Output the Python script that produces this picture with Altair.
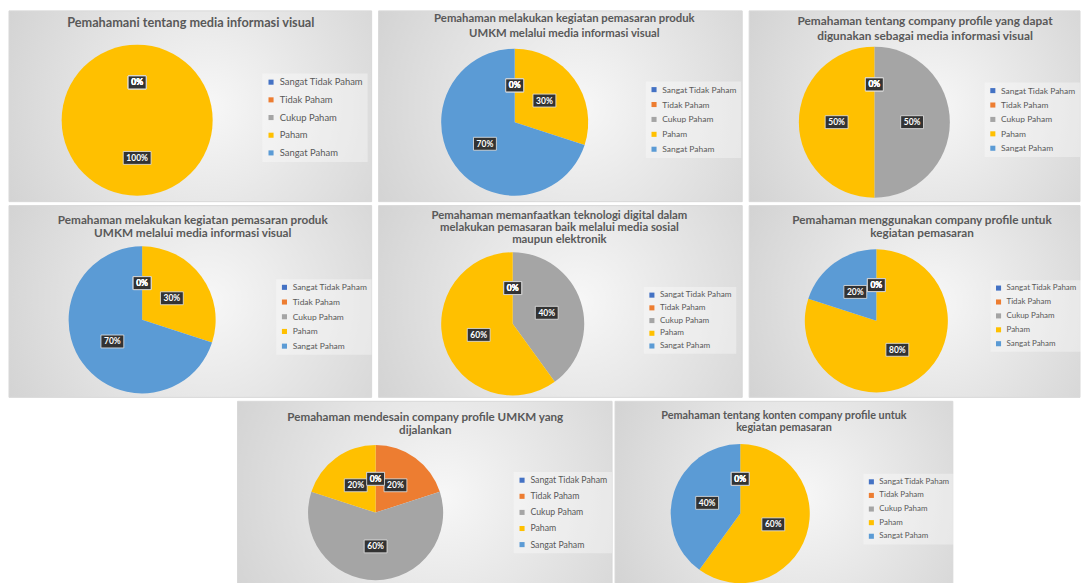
import altair as alt
import pandas as pd

CATEGORIES = ["Sangat Tidak Paham", "Tidak Paham", "Cukup Paham", "Paham", "Sangat Paham"]
COLORS = ["#4472C4", "#ED7D31", "#A5A5A5", "#FFC000", "#5B9BD5"]

TITLES = [
    "Pemahamani tentang media informasi visual",
    "Pemahaman melakukan kegiatan pemasaran produk\nUMKM melalui media informasi visual",
    "Pemahaman tentang company profile yang dapat\ndigunakan sebagai media informasi visual",
    "Pemahaman melakukan kegiatan pemasaran produk\nUMKM melalui media informasi visual",
    "Pemahaman memanfaatkan teknologi digital dalam\nmelakukan pemasaran baik melalui media sosial\nmaupun elektronik",
    "Pemahaman menggunakan company profile untuk\nkegiatan pemasaran",
    "Pemahaman mendesain company profile UMKM yang\ndijalankan",
    "Pemahaman tentang konten company profile untuk\nkegiatan pemasaran",
]

# percentages per category (same order as CATEGORIES)
V1 = [0, 0, 0, 100, 0]
V2 = [0, 0, 0, 30, 70]
V3 = [0, 0, 50, 50, 0]
V4 = [0, 0, 0, 30, 70]
V5 = [0, 0, 40, 60, 0]
V6 = [0, 0, 0, 80, 20]
V7 = [0, 20, 60, 20, 0]
V8 = [0, 0, 0, 60, 40]
PANEL_VALUES = [V1, V2, V3, V4, V5, V6, V7, V8]

# ---- layout / style (not data) ----
FONT = "Lato"
PANEL_W = [365, 366, 333, 365, 366, 333, 377, 340]
PANEL_H = [192, 192, 192, 193, 193, 193, 190, 190]
# pie centre (x, y) inside panel and radius
PIE = [(129, 110, 76), (137, 112, 74), (126, 112, 76), (134, 115, 74),
       (135, 119, 72), (128, 116, 72), (139, 112, 68), (126, 113, 70)]
# title centre x, first line centre y, font size, line height
TITLE_POS = [(183, 12, 12.8, 15), (187, 8, 11.4, 15.5), (177, 10, 11.9, 15), (185, 15, 11.8, 12.8),
             (182, 10, 11.4, 12.5), (174, 15, 11.8, 13), (189, 16, 11.7, 13), (170, 15, 10.9, 12)]
# legend x, y, label size, row padding
LEGEND_POS = [(255, 63, 9.5, 6.8), (269, 71, 8.5, 6), (237, 72, 8.5, 5.5), (269, 74, 8.5, 5.8),
              (267, 82, 8.2, 3.8), (243, 75, 8, 6), (278, 71, 8.8, 6.2), (250, 73, 8, 5.7)]

BOX_PATHS = [
    "M-0.9,-0.65L0.9,-0.65L0.9,0.65L-0.9,0.65Z",
    "M-1.15,-0.65L1.15,-0.65L1.15,0.65L-1.15,0.65Z",
    "M-1.4,-0.65L1.4,-0.65L1.4,0.65L-1.4,0.65Z",
]

BG = {
    "gradient": "radial",
    "stops": [{"offset": 0, "color": "#f7f7f7"}, {"offset": 1, "color": "#cbcbcb"}],
    "x1": 0.55, "y1": 0.5, "r1": 0, "x2": 0.55, "y2": 0.5, "r2": 0.75,
}


def panel(i):
    df = pd.DataFrame({"cat": CATEGORIES, "idx": list(range(5)), "val": PANEL_VALUES[i]})
    cx, cy, r = PIE[i]
    W, H = PANEL_W[i], PANEL_H[i]
    sx = alt.Scale(domain=[-1, 1], range=[cx - r, cx + r])
    sy = alt.Scale(domain=[-1, 1], range=[cy + r, cy - r])
    tx, ty, tfs, tlh = TITLE_POS[i]
    lx, ly, lfs, lrp = LEGEND_POS[i]

    bg = alt.Chart(pd.DataFrame({"a": [0]})).mark_rect(fill=BG, stroke="#d8d8d8", strokeWidth=1).encode(
        x=alt.value(0), x2=alt.value(W), y=alt.value(0), y2=alt.value(H)
    )

    base = alt.Chart(df)

    pie = base.mark_arc(radius=r).encode(
        theta=alt.Theta("val:Q", stack=True),
        order=alt.Order("idx:Q"),
        x=alt.XDatum(0, type="quantitative", scale=sx, axis=None),
        y=alt.YDatum(0, type="quantitative", scale=sy, axis=None),
        color=alt.Color(
            "cat:N",
            scale=alt.Scale(domain=CATEGORIES, range=COLORS),
            sort=CATEGORIES,
            title=None,
            legend=alt.Legend(
                orient="none", legendX=lx, legendY=ly, symbolType="square",
                symbolSize=26, symbolStrokeWidth=0, labelFont=FONT,
                labelFontSize=lfs, labelColor="#595959", rowPadding=lrp,
                padding=4, fillColor="rgba(255,255,255,0.35)", labelLimit=300,
            ),
        ),
    )

    lab = base.transform_joinaggregate(total="sum(val)").transform_window(
        cum="sum(val)", sort=[alt.SortField("idx")], frame=[None, 0]
    ).transform_calculate(
        mid="(datum.cum - datum.val / 2) / datum.total * 2 * PI",
        lx="0.5 * sin(datum.mid)",
        ly="0.5 * cos(datum.mid)",
        label="datum.val + '%'",
        nch="length(datum.val + '%')",
    )

    boxes = lab.mark_point(filled=True, size=400, opacity=1, fill="#333333",
                           stroke="#e6e6e6", strokeWidth=0.8).encode(
        x=alt.X("lx:Q", scale=sx, axis=None),
        y=alt.Y("ly:Q", scale=sy, axis=None),
        shape=alt.Shape("nch:N", scale=alt.Scale(domain=[2, 3, 4], range=BOX_PATHS), legend=None),
    )

    texts = lab.mark_text(color="white", font=FONT, fontWeight="bold", fontSize=8.5,
                          baseline="middle", align="center").encode(
        x=alt.X("lx:Q", scale=sx, axis=None),
        y=alt.Y("ly:Q", scale=sy, axis=None),
        text="label:N",
    )

    title = alt.Chart(pd.DataFrame({"t": [TITLES[i]]})).mark_text(
        font=FONT, fontWeight="bold", fontSize=tfs, color="#595959",
        lineBreak="\n", lineHeight=tlh, baseline="middle", align="center",
    ).encode(text="t:N", x=alt.value(tx), y=alt.value(ty))

    return alt.layer(bg, pie, boxes, texts, title).properties(
        width=W, height=H,
        view=alt.ViewBackground(stroke="transparent", strokeWidth=0),
    )


def row(charts, spacing):
    return alt.hconcat(*charts, spacing=spacing).resolve_scale(
        color="independent", x="independent", y="independent", shape="independent"
    ).resolve_legend(color="independent")


spacer = alt.Chart(pd.DataFrame({"a": [0]})).mark_text(text=" ", baseline="top").encode(
    x=alt.value(20), y=alt.value(20)
).properties(width=228, height=190,
             view=alt.ViewBackground(fill="white", stroke="transparent", strokeWidth=0))

row1 = row([panel(0), panel(1), panel(2)], 5)
row2 = row([panel(3), panel(4), panel(5)], 5)
row3 = row([spacer, panel(6), panel(7)], 1)

chart = alt.vconcat(row1, row2, row3, spacing=2).resolve_scale(
    color="independent", x="independent", y="independent", shape="independent"
).resolve_legend(color="independent").properties(
    padding=0,
    background="white",
)

chart.save("out.html", embed_options={"renderer": "svg", "actions": False})
